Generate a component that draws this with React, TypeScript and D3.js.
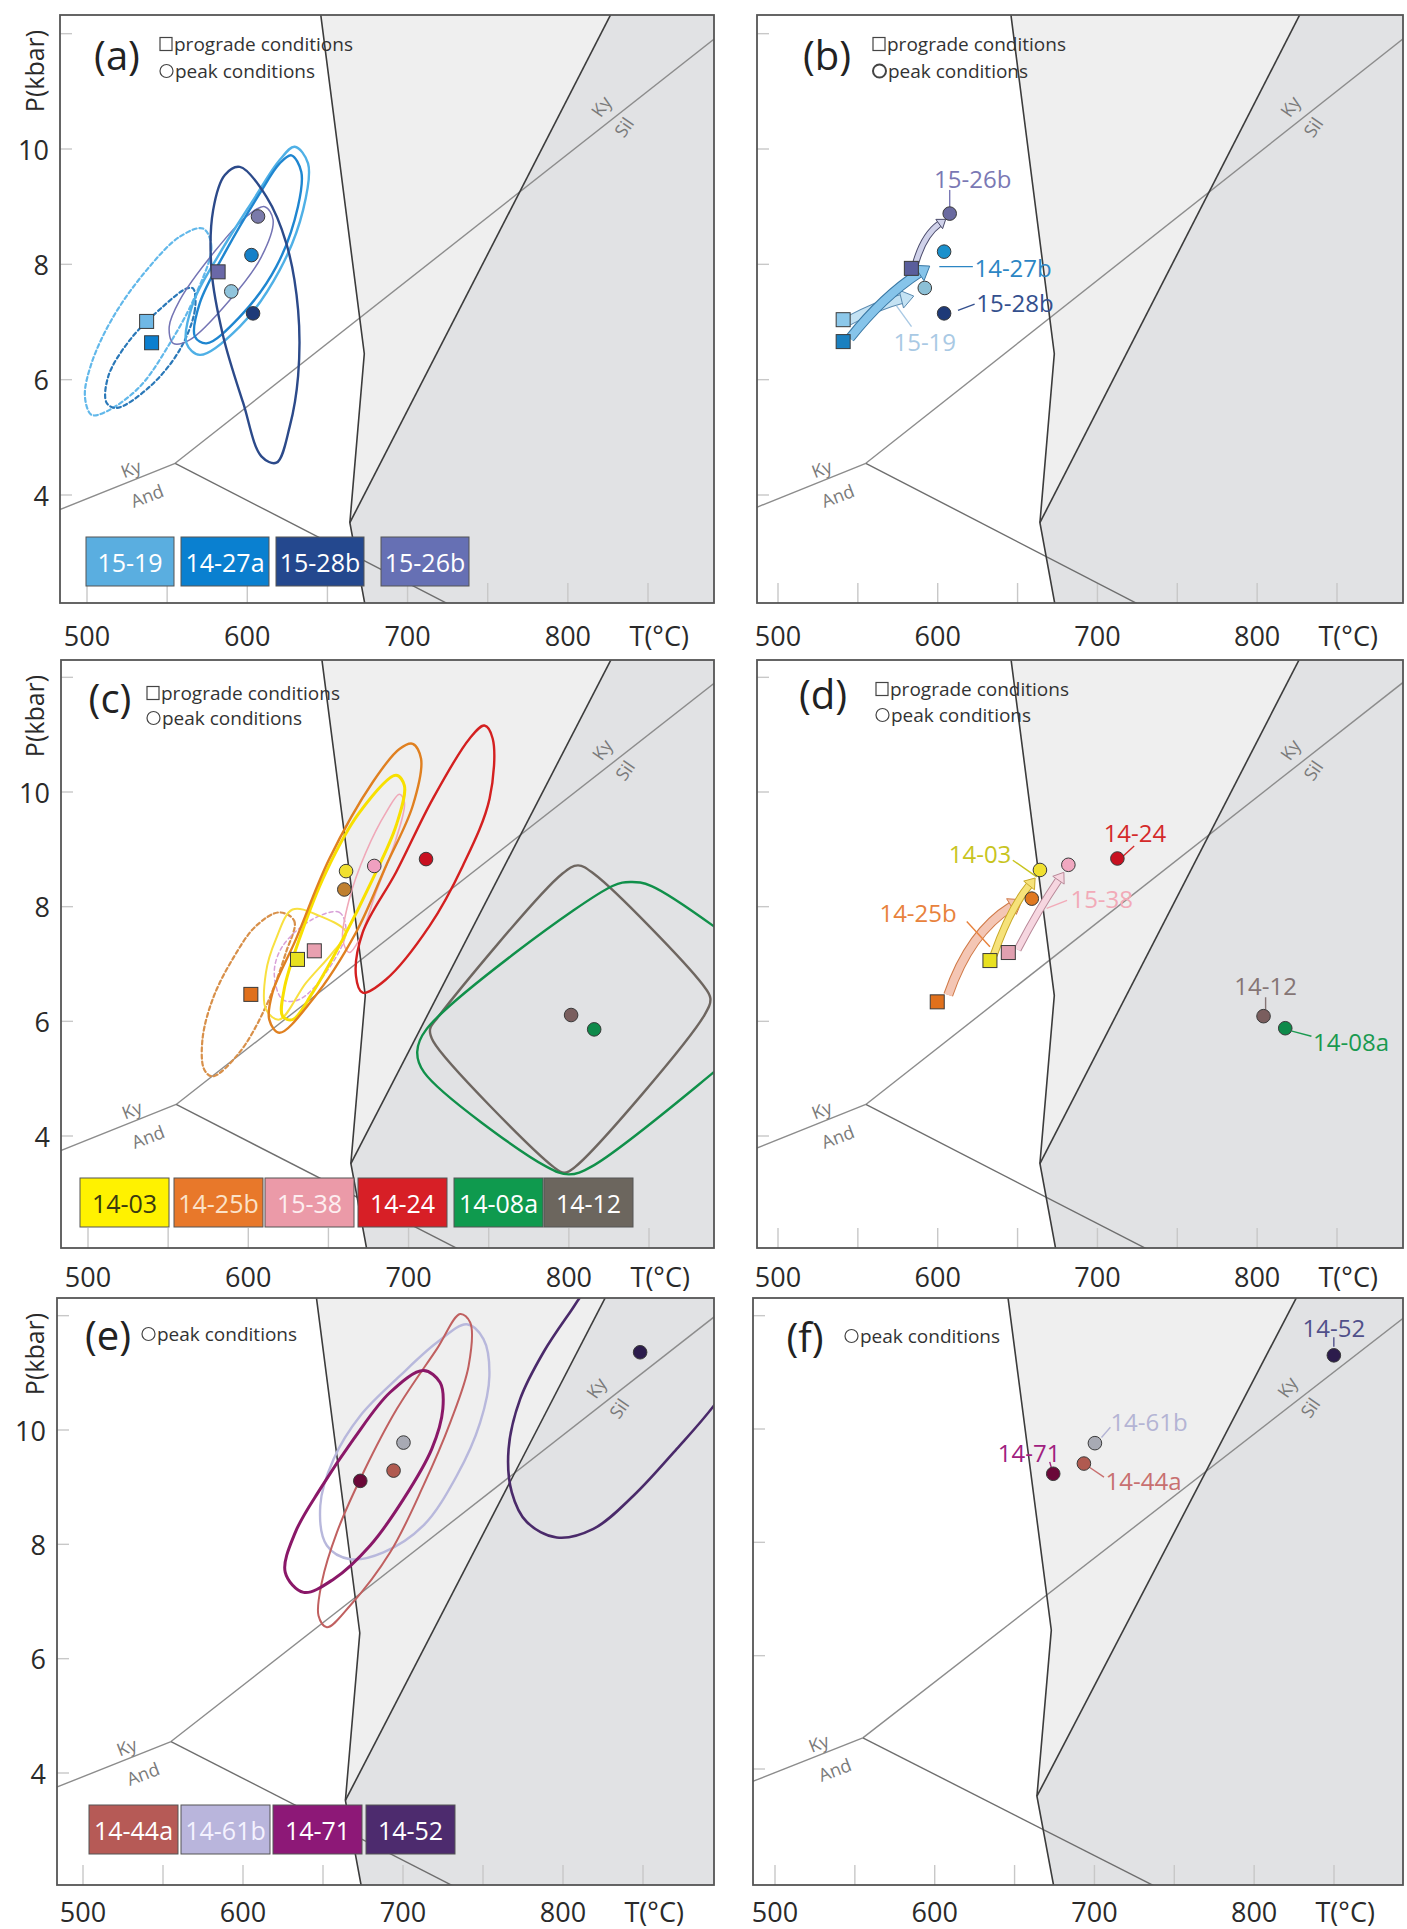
import React from "react";
import * as d3 from "d3";

type Pt = [number, number];

// ---------------- phase diagram (T °C, P kbar) ----------------
const solidus: Pt[] = [[645.5, 12.4], [673, 6.45], [664, 3.52], [675.4, 1.8]];
const meltIn: Pt[] = [[828, 12.4], [664, 3.52]];
const kySil: Pt[] = [[555, 4.55], [900, 12.1]];
const kyAnd: Pt[] = [[555, 4.55], [478, 3.69]];
const andSil: Pt[] = [[555, 4.55], [740, 1.9]];
const cornerTR: Pt = [900, 12.4];
const cornerBR: Pt = [900, 1.8];

const phaseLabels = [
  { t: "Ky", T: 820.6, P: 10.74, rot: -55 },
  { t: "Sil", T: 834.9, P: 10.38, rot: -55 },
  { t: "Ky", T: 527.3, P: 4.46, rot: -21 },
  { t: "And", T: 537.4, P: 3.99, rot: -21 },
];

// ---------------- axes ----------------
const tempTicks = [500, 550, 600, 650, 700, 750, 800, 850];
const tempLabels = [500, 600, 700, 800];
const presTicks = [4, 6, 8, 10, 12];
const presLabels = [4, 6, 8, 10];

// ---------------- legend boxes ----------------
const legendA = ["15-19", "14-27a", "15-28b", "15-26b"];
const legendC = ["14-03", "14-25b", "15-38", "14-24", "14-08a", "14-12"];
const legendE = ["14-44a", "14-61b", "14-71", "14-52"];
const boxFill: Record<string, string> = {
  "15-19": "#5aaee0", "14-27a": "#0a80d0", "15-28b": "#24488e", "15-26b": "#6670b4",
  "14-03": "#fff200", "14-25b": "#e8782a", "15-38": "#eb9aa8", "14-24": "#d71f26",
  "14-08a": "#0f9a4e", "14-12": "#6c665e",
  "14-44a": "#b65a56", "14-61b": "#b9b5dc", "14-71": "#8d1877", "14-52": "#4d2b6e",
};
const boxText: Record<string, string> = { "14-03": "#3a3a10", "14-25b": "#fbe2c8", "15-38": "#fdeef0", "14-61b": "#f4f2ff" };

// ---------------- panel (a) contours ----------------
const a1519pro: Pt[] = [[572.4, 8.62], [577.6, 8.31], [567.3, 7.44], [551.7, 6.63], [533.0, 5.88], [512.2, 5.45], [502.9, 5.39], [498.7, 5.71], [502.9, 6.29], [516.4, 7.09], [537.2, 7.9], [557.9, 8.48]];
const a1427pro: Pt[] = [[566.2, 7.58], [567.3, 7.21], [557.9, 6.52], [539.2, 5.88], [518.5, 5.51], [512.2, 5.6], [513.3, 6.06], [526.8, 6.69], [547.5, 7.27], [562.1, 7.58]];
const a1519peak: Pt[] = [[629.6, 10.04], [637.9, 9.75], [634.8, 8.94], [620.2, 7.9], [595.3, 6.92], [570.4, 6.43], [562.1, 6.63], [566.2, 7.33], [582.8, 8.19], [603.6, 9.11], [620.2, 9.81]];
const a1427peak: Pt[] = [[627.5, 9.89], [633.7, 9.6], [631.6, 9.0], [618.1, 7.96], [595.3, 7.09], [574.5, 6.63], [567.3, 6.75], [570.4, 7.33], [587.0, 8.25], [607.8, 9.23], [620.2, 9.75]];
const a1526peak: Pt[] = [[610.9, 9.0], [616.1, 8.77], [608.8, 8.13], [589.1, 7.38], [564.1, 6.69], [553.8, 6.63], [551.3, 6.92], [557.9, 7.38], [578.7, 8.19], [599.5, 8.83]];
const a1528peak: Pt[] = [[595.3, 9.69], [612, 9.17], [624.4, 8.36], [631.7, 7.21], [631.7, 6.06], [626.5, 5.19], [618.2, 4.56], [608.8, 4.67], [597.4, 5.6], [585, 6.75], [577.7, 7.9], [578.7, 8.94], [586, 9.55]];

// ---------------- panel (c) contours ----------------
const c1424: Pt[] = [[747.3, 11.16], [752.5, 10.93], [750.5, 9.88], [733.8, 8.71], [713.0, 7.66], [685.9, 6.73], [671.4, 6.5], [667.2, 6.79], [671.4, 7.55], [692.2, 8.6], [715.1, 9.88], [738.0, 10.93]];
const c1425peak: Pt[] = [[702.6, 10.84], [707.8, 10.58], [702.6, 9.76], [685.9, 8.71], [667.2, 7.55], [640.1, 6.38], [619.3, 5.8], [613.1, 6.03], [615.1, 6.5], [629.7, 7.43], [650.5, 8.83], [677.6, 10.17], [694.3, 10.75]];
const c1403peak: Pt[] = [[692.2, 10.29], [697.4, 10.11], [692.2, 9.41], [677.6, 8.48], [658.9, 7.43], [640.1, 6.5], [627.6, 6.03], [621.4, 6.09], [622.4, 6.56], [631.8, 7.43], [648.4, 8.6], [669.3, 9.64]];
const c1403pro: Pt[] = [[627.6, 7.95], [644.3, 7.84], [660.9, 7.55], [652.6, 7.2], [636.0, 6.67], [619.3, 6.03], [611.0, 6.21], [611.0, 6.85], [617.2, 7.43]];
const c1425pro: Pt[] = [[619.3, 7.9], [628.7, 7.75], [623.5, 7.2], [611.0, 6.26], [594.3, 5.45], [577.7, 5.04], [572.5, 5.16], [571.4, 5.68], [577.7, 6.38], [590.1, 7.08], [604.7, 7.66]];
const c1538pro: Pt[] = [[640.1, 7.78], [656.8, 7.9], [660.9, 7.55], [648.5, 6.85], [631.8, 6.38], [621.4, 6.38], [616.2, 6.85], [621.4, 7.31]];
const c1538peak: Pt[] = [[694.3, 9.96], [697.4, 9.82], [692.2, 9.18], [679.7, 8.25], [669.3, 7.43], [663.0, 7.2], [658.9, 7.43], [663.0, 8.13], [673.4, 8.95], [685.9, 9.64]];
const c1412: Pt[] = [[795.7, 8.57], [805.7, 8.72], [815.8, 8.57], [883.2, 6.65], [888.3, 6.4], [884.6, 6.11], [804.3, 3.47], [797.1, 3.36], [790, 3.47], [715.4, 5.65], [713.4, 5.86], [718.3, 6.07]];
const c1408: Pt[] = [[711.1, 5.86], [827.2, 8.36], [838.7, 8.43], [851.6, 8.36], [940, 6.6], [945, 6.45], [940, 6.3], [814.4, 3.47], [800, 3.33], [785.7, 3.47], [709.7, 5.11], [705.4, 5.47]];

// ---------------- panel (e) contours ----------------
const e1471: Pt[] = [[712.8, 11.04], [723.2, 10.83], [724.9, 10.37], [718.0, 9.67], [700.3, 8.79], [679.5, 7.98], [656.6, 7.39], [637.9, 7.16], [626.4, 7.51], [632.7, 8.21], [648.3, 8.97], [669.1, 9.84], [692.0, 10.66]];
const e1444: Pt[] = [[735.7, 12.03], [742.0, 11.88], [741.0, 11.12], [729.5, 10.13], [712.8, 9.03], [692.0, 7.86], [667.0, 6.93], [652.4, 6.55], [647.2, 6.75], [649.3, 7.34], [658.7, 8.21], [675.3, 9.26], [696.2, 10.37], [721.2, 11.42]];
const e1461: Pt[] = [[739.9, 11.85], [750.3, 11.59], [754.0, 10.95], [748.2, 10.13], [733.6, 9.2], [712.8, 8.33], [687.8, 7.86], [667.0, 7.74], [652.4, 7.98], [648.3, 8.68], [656.6, 9.49], [673.3, 10.25], [698.2, 10.95], [721.2, 11.53]];
const e1452: Pt[] = [[814.8, 12.46], [804.4, 12.06], [787.8, 11.36], [773.2, 10.54], [766.0, 9.67], [768.0, 8.91], [777.4, 8.39], [796.1, 8.12], [819.0, 8.27], [844.0, 8.85], [871.1, 9.67], [894.4, 10.43], [920, 11.5], [900, 13], [840, 13]];

type Contour = { pts: Pt[]; color: string; w: number; dash?: string };
const contoursA: Contour[] = [
  { pts: a1519pro, color: "#62b8ea", w: 2.2, dash: "4 3" },
  { pts: a1427pro, color: "#2a78b8", w: 2.2, dash: "4 3" },
  { pts: a1526peak, color: "#7474b4", w: 1.5 },
  { pts: a1519peak, color: "#4fb0e6", w: 2.4 },
  { pts: a1427peak, color: "#1f86d0", w: 2.4 },
  { pts: a1528peak, color: "#2c4a8a", w: 2.4 },
];
const contoursC: Contour[] = [
  { pts: c1425pro, color: "#d8904a", w: 2.2, dash: "4 3" },
  { pts: c1538pro, color: "#d8a0d8", w: 1.5, dash: "4 3" },
  { pts: c1403pro, color: "#f8e040", w: 2 },
  { pts: c1538peak, color: "#f0a8b8", w: 1.6 },
  { pts: c1403peak, color: "#f8e000", w: 3 },
  { pts: c1425peak, color: "#e08020", w: 2.4 },
  { pts: c1424, color: "#d42020", w: 2.4 },
  { pts: c1412, color: "#6e6660", w: 2.4 },
  { pts: c1408, color: "#10904a", w: 2.4 },
];
const contoursE: Contour[] = [
  { pts: e1461, color: "#b8b8dc", w: 2.4 },
  { pts: e1444, color: "#c06060", w: 2 },
  { pts: e1471, color: "#8a1868", w: 3 },
  { pts: e1452, color: "#4a2a6a", w: 2.6 },
];

// ---------------- markers ----------------
type Marker = { s: "sq" | "ci"; T: number; P: number; fill: string };
const markersA: Marker[] = [
  { s: "sq", T: 537.2, P: 7.01, fill: "#6fb8e6" },
  { s: "sq", T: 540.3, P: 6.64, fill: "#0c7fcf" },
  { s: "sq", T: 581.8, P: 7.87, fill: "#6a68a8" },
  { s: "ci", T: 606.7, P: 8.83, fill: "#7a7aaa" },
  { s: "ci", T: 602.6, P: 8.16, fill: "#1580c8" },
  { s: "ci", T: 590.0, P: 7.53, fill: "#90c4dc" },
  { s: "ci", T: 603.6, P: 7.15, fill: "#1e3a78" },
];
const markersB: Marker[] = [
  { s: "sq", T: 540.8, P: 7.04, fill: "#8cc8ea" },
  { s: "sq", T: 540.8, P: 6.66, fill: "#1a80c0" },
  { s: "sq", T: 583.5, P: 7.93, fill: "#5a5e9c" },
  { s: "ci", T: 607.5, P: 8.88, fill: "#6a6aa0" },
  { s: "ci", T: 604.0, P: 8.22, fill: "#1a90cc" },
  { s: "ci", T: 591.9, P: 7.59, fill: "#8cc0d6" },
  { s: "ci", T: 604.0, P: 7.15, fill: "#1e3a78" },
];
const markersC: Marker[] = [
  { s: "sq", T: 601.6, P: 6.47, fill: "#e0701c" },
  { s: "sq", T: 630.7, P: 7.08, fill: "#e8e020" },
  { s: "sq", T: 641.2, P: 7.23, fill: "#e8a0b0" },
  { s: "ci", T: 661.0, P: 8.62, fill: "#f0e030" },
  { s: "ci", T: 659.9, P: 8.3, fill: "#c08030" },
  { s: "ci", T: 678.6, P: 8.71, fill: "#f0a0c0" },
  { s: "ci", T: 710.9, P: 8.83, fill: "#c81020" },
  { s: "ci", T: 801.4, P: 6.11, fill: "#7a5e5e" },
  { s: "ci", T: 815.8, P: 5.86, fill: "#0e8a4a" },
];
const markersD: Marker[] = [
  { s: "sq", T: 599.7, P: 6.34, fill: "#e0701c" },
  { s: "sq", T: 632.7, P: 7.06, fill: "#e8e020" },
  { s: "sq", T: 644.2, P: 7.2, fill: "#e0a0b0" },
  { s: "ci", T: 658.9, P: 8.14, fill: "#e07820" },
  { s: "ci", T: 664.0, P: 8.64, fill: "#f0e030" },
  { s: "ci", T: 681.8, P: 8.73, fill: "#f0a8c0" },
  { s: "ci", T: 712.5, P: 8.84, fill: "#c81020" },
  { s: "ci", T: 804.0, P: 6.09, fill: "#7a5e5e" },
  { s: "ci", T: 817.6, P: 5.88, fill: "#0e8a4a" },
];
const markersE: Marker[] = [
  { s: "ci", T: 700.3, P: 9.78, fill: "#a8aab4" },
  { s: "ci", T: 694.1, P: 9.29, fill: "#b05a50" },
  { s: "ci", T: 673.3, P: 9.11, fill: "#6a0838" },
  { s: "ci", T: 848.2, P: 11.36, fill: "#2c1c4c" },
];
const markersF: Marker[] = [
  { s: "ci", T: 700.3, P: 9.75, fill: "#a8aab4" },
  { s: "ci", T: 693.4, P: 9.39, fill: "#b05a50" },
  { s: "ci", T: 674.2, P: 9.21, fill: "#6a0838" },
  { s: "ci", T: 849.9, P: 11.3, fill: "#2c1c4c" },
];

// ---------------- P-T path arrows ----------------
type Arrow = { from: Pt; ctrl: Pt; to: Pt; w: number; fill: string; stroke: string };
const arrowsB: Arrow[] = [
  { from: [544, 7.02], ctrl: [563, 7.3], to: [585, 7.45], w: 8, fill: "#c4e2f3", stroke: "#5a8ab0" },
  { from: [545, 6.72], ctrl: [566, 7.45], to: [595, 7.97], w: 8, fill: "#86c4ea", stroke: "#3a78a4" },
  { from: [586, 8.0], ctrl: [591, 8.5], to: [605, 8.78], w: 5, fill: "#d0d2ea", stroke: "#4a4a6a" },
];
const arrowsD: Arrow[] = [
  { from: [606.6, 6.46], ctrl: [620, 7.55], to: [653, 8.12], w: 8, fill: "#f4c6b4", stroke: "#d07a48" },
  { from: [635, 7.15], ctrl: [645, 7.95], to: [661, 8.5], w: 6, fill: "#f6e27a", stroke: "#c8a828" },
  { from: [650, 7.25], ctrl: [663, 7.95], to: [679, 8.6], w: 6, fill: "#f6d6e0", stroke: "#b88898" },
];

// ---------------- sample labels ----------------
type Label = { text: string; T: number; P: number; anchor: "start" | "middle"; color: string; lead: Pt[] };
const labelsB: Label[] = [
  { text: "15-26b", T: 621.9, P: 9.49, anchor: "middle", color: "#7a78b4", lead: [[607.5, 9.29], [607.5, 8.98]] },
  { text: "14-27b", T: 623, P: 7.94, anchor: "start", color: "#2c86c4", lead: [[601, 7.96], [622, 7.96]] },
  { text: "15-28b", T: 624.2, P: 7.33, anchor: "start", color: "#34508e", lead: [[612.7, 7.2], [623.1, 7.31]] },
  { text: "15-19", T: 591.9, P: 6.66, anchor: "middle", color: "#a9c9e4", lead: [[574.2, 7.28], [583.6, 6.92]] },
];
const labelsD: Label[] = [
  { text: "14-03", T: 626.5, P: 8.92, anchor: "middle", color: "#c8c41e", lead: [[647, 8.81], [662, 8.52]] },
  { text: "14-25b", T: 587.7, P: 7.89, anchor: "middle", color: "#e8823c", lead: [[618.2, 7.74], [632.7, 7.3]] },
  { text: "15-38", T: 702.7, P: 8.15, anchor: "middle", color: "#f2aab8", lead: [[668.2, 7.97], [681, 8.11]] },
  { text: "14-24", T: 723.5, P: 9.3, anchor: "middle", color: "#d42a2a", lead: [[716, 8.88], [723, 9.06]] },
  { text: "14-12", T: 805.3, P: 6.63, anchor: "middle", color: "#857575", lead: [[805.3, 6.42], [805.3, 6.21]] },
  { text: "14-08a", T: 835, P: 5.64, anchor: "start", color: "#1a9a50", lead: [[821.8, 5.83], [834, 5.74]] },
];
const labelsF: Label[] = [
  { text: "14-52", T: 849.9, P: 11.8, anchor: "middle", color: "#50508a", lead: [[849.9, 11.62], [849.9, 11.45]] },
  { text: "14-61b", T: 710, P: 10.13, anchor: "start", color: "#b4b4d4", lead: [[704.4, 9.85], [710, 10.03]] },
  { text: "14-71", T: 659.1, P: 9.58, anchor: "middle", color: "#a02080", lead: [[672, 9.42], [673.5, 9.27]] },
  { text: "14-44a", T: 707, P: 9.09, anchor: "start", color: "#c87070", lead: [[695, 9.36], [706, 9.15]] },
];

// ---------------- layout ----------------
type Layout = {
  id: string; letter: string; x500: number; x850: number; y10: number; y4: number;
  left: number; right: number; top: number; bottom: number; showY: boolean; labelBase: number;
  letterX: number; letterY: number; legX: number; legY1: number | null; legY2: number; boldCircle?: boolean;
  boxY?: number; boxXs?: number[]; boxW?: number; boxes?: string[];
};
type PanelDef = { layout: Layout; contours: Contour[]; arrows: Arrow[]; markers: Marker[]; labels: Label[] };

const panels: PanelDef[] = [
  {
    layout: { id: "a", letter: "(a)", x500: 87, x850: 648, y10: 149, y4: 495, left: 60, right: 714, top: 15, bottom: 603, showY: true, labelBase: 646, letterX: 117, letterY: 54, legX: 160, legY1: 44, legY2: 71, boxY: 537, boxXs: [86, 181, 276, 381], boxW: 88, boxes: legendA },
    contours: contoursA, arrows: [], markers: markersA, labels: [],
  },
  {
    layout: { id: "b", letter: "(b)", x500: 778, x850: 1337, y10: 149, y4: 495, left: 757, right: 1403, top: 15, bottom: 603, showY: false, labelBase: 646, letterX: 827, letterY: 54, legX: 873, legY1: 44, legY2: 71, boldCircle: true },
    contours: [], arrows: arrowsB, markers: markersB, labels: labelsB,
  },
  {
    layout: { id: "c", letter: "(c)", x500: 88, x850: 649, y10: 792, y4: 1136, left: 61, right: 714, top: 660, bottom: 1248, showY: true, labelBase: 1287, letterX: 110, letterY: 697, legX: 147, legY1: 693, legY2: 718, boxY: 1178, boxXs: [80, 174, 265, 358, 454, 544], boxW: 89, boxes: legendC },
    contours: contoursC, arrows: [], markers: markersC, labels: [],
  },
  {
    layout: { id: "d", letter: "(d)", x500: 778, x850: 1337, y10: 792, y4: 1136, left: 757, right: 1403, top: 660, bottom: 1248, showY: false, labelBase: 1287, letterX: 823, letterY: 693, legX: 876, legY1: 689, legY2: 715 },
    contours: [], arrows: arrowsD, markers: markersD, labels: labelsD,
  },
  {
    layout: { id: "e", letter: "(e)", x500: 83, x850: 643, y10: 1430, y4: 1773, left: 57, right: 714, top: 1298, bottom: 1885, showY: true, labelBase: 1922, letterX: 108, letterY: 1334, legX: 142, legY1: null, legY2: 1334, boxY: 1805, boxXs: [89, 181, 273, 366], boxW: 89, boxes: legendE },
    contours: contoursE, arrows: [], markers: markersE, labels: [],
  },
  {
    layout: { id: "f", letter: "(f)", x500: 775, x850: 1334, y10: 1429, y4: 1769, left: 753, right: 1403, top: 1298, bottom: 1885, showY: false, labelBase: 1922, letterX: 805, letterY: 1336, legX: 845, legY1: null, legY2: 1336 },
    contours: [], arrows: [], markers: markersF, labels: labelsF,
  },
];

const FONT = "'Open Sans', 'Noto Sans', sans-serif";

function Panel({ def }: { def: PanelDef }) {
  const L = def.layout;
  const x = d3.scaleLinear().domain([500, 850]).range([L.x500, L.x850]);
  const y = d3.scaleLinear().domain([10, 4]).range([L.y10, L.y4]);
  const lin = d3.line<Pt>().x((d) => x(d[0])).y((d) => y(d[1]));
  const smooth = d3.line<Pt>().x((d) => x(d[0])).y((d) => y(d[1])).curve(d3.curveCatmullRomClosed.alpha(0.5));
  const clipId = `clip-${L.id}`;

  const lightPoly: Pt[] = [solidus[0], solidus[1], solidus[2], meltIn[0]];
  const darkPoly: Pt[] = [meltIn[0], meltIn[1], solidus[3], cornerBR, cornerTR];

  const arrowEls = def.arrows.map((a, i) => {
    const p0 = [x(a.from[0]), y(a.from[1])];
    const c = [x(a.ctrl[0]), y(a.ctrl[1])];
    const p1 = [x(a.to[0]), y(a.to[1])];
    const dx = p1[0] - c[0], dy = p1[1] - c[1];
    const len = Math.hypot(dx, dy) || 1;
    const ux = dx / len, uy = dy / len;
    const hl = a.w * 1.6, hw = a.w * 1.15;
    const b = [p1[0] - ux * hl, p1[1] - uy * hl];
    const path = `M${p0[0]},${p0[1]}Q${c[0]},${c[1]} ${b[0]},${b[1]}`;
    const head = `M${p1[0]},${p1[1]}L${b[0] - uy * hw},${b[1] + ux * hw}L${b[0] + uy * hw},${b[1] - ux * hw}Z`;
    return (
      <g key={i}>
        <path d={path} fill="none" stroke={a.stroke} strokeWidth={a.w + 2} />
        <path d={path} fill="none" stroke={a.fill} strokeWidth={a.w} />
        <path d={head} fill={a.fill} stroke={a.stroke} strokeWidth={1} strokeLinejoin="round" />
      </g>
    );
  });

  return (
    <g>
      <defs>
        <clipPath id={clipId}>
          <rect x={L.left} y={L.top} width={L.right - L.left} height={L.bottom - L.top} />
        </clipPath>
      </defs>
      <rect x={L.left} y={L.top} width={L.right - L.left} height={L.bottom - L.top} fill="#ffffff" />
      <g clipPath={`url(#${clipId})`}>
        <path d={lin(lightPoly) + "Z"} fill="#efefef" />
        <path d={lin(darkPoly) + "Z"} fill="#e1e2e4" />
        {tempTicks.map((t) => (
          <line key={t} x1={x(t)} x2={x(t)} y1={L.bottom} y2={L.bottom - 20} stroke="#c8c8c8" strokeWidth={1.4} />
        ))}
        {presTicks.map((p) => (
          <line key={p} x1={L.left} x2={L.left + 12} y1={y(p)} y2={y(p)} stroke="#c8c8c8" strokeWidth={1.4} />
        ))}
        <path d={lin(kySil) ?? ""} fill="none" stroke="#8c8c8c" strokeWidth={1.4} />
        <path d={lin(kyAnd) ?? ""} fill="none" stroke="#8c8c8c" strokeWidth={1.4} />
        <path d={lin(andSil) ?? ""} fill="none" stroke="#6e6e6e" strokeWidth={1.4} />
        <path d={lin(solidus) ?? ""} fill="none" stroke="#3c3c3c" strokeWidth={1.6} />
        <path d={lin(meltIn) ?? ""} fill="none" stroke="#3c3c3c" strokeWidth={1.6} />
        {phaseLabels.map((l, i) => (
          <text key={i} x={x(l.T)} y={y(l.P)} transform={`rotate(${l.rot},${x(l.T)},${y(l.P)})`}
            fontSize={18} fill="#7a7a7a" textAnchor="middle" dominantBaseline="central" fontFamily={FONT}>{l.t}</text>
        ))}
        {def.contours.map((c, i) => (
          <path key={i} d={smooth(c.pts) ?? ""} fill="none" stroke={c.color} strokeWidth={c.w}
            strokeDasharray={c.dash} strokeLinejoin="round" strokeLinecap="round" />
        ))}
        {arrowEls}
        {def.labels.map((l, i) => (
          <path key={i} d={lin(l.lead) ?? ""} stroke={l.color} strokeWidth={1.4} fill="none" />
        ))}
        {def.markers.map((m, i) =>
          m.s === "sq" ? (
            <rect key={i} x={x(m.T) - 7} y={y(m.P) - 7} width={14} height={14} fill={m.fill} stroke="#3a3a3a" strokeWidth={1} />
          ) : (
            <circle key={i} cx={x(m.T)} cy={y(m.P)} r={6.8} fill={m.fill} stroke="#3a3a3a" strokeWidth={1} />
          )
        )}
        {def.labels.map((l, i) => (
          <text key={i} x={x(l.T)} y={y(l.P)} fontSize={24} fill={l.color} textAnchor={l.anchor}
            dominantBaseline="central" fontFamily={FONT}>{l.text}</text>
        ))}
        {L.boxes && L.boxXs && L.boxes.map((s, i) => (
          <g key={s}>
            <rect x={L.boxXs![i]} y={L.boxY} width={L.boxW} height={49} fill={boxFill[s]} stroke="#555" strokeWidth={1} />
            <text x={L.boxXs![i] + (L.boxW as number) / 2} y={(L.boxY as number) + 25} fontSize={25} textAnchor="middle"
              dominantBaseline="central" fill={boxText[s] ?? "#ffffff"} fontFamily={FONT}>{s}</text>
          </g>
        ))}
      </g>
      <rect x={L.left} y={L.top} width={L.right - L.left} height={L.bottom - L.top} fill="none" stroke="#555" strokeWidth={1.8} />

      <text x={L.letterX} y={L.letterY} fontSize={40} fill="#222" textAnchor="middle" dominantBaseline="central" fontFamily={FONT}>{L.letter}</text>
      {L.legY1 !== null && (
        <g>
          <rect x={L.legX} y={L.legY1 - 6.5} width={12} height={13} fill="none" stroke="#444" strokeWidth={1.2} />
          <text x={L.legX + 14} y={L.legY1} fontSize={19} fill="#333" dominantBaseline="central" fontFamily={FONT}>prograde conditions</text>
        </g>
      )}
      <g>
        <circle cx={L.legX + 6.5} cy={L.legY2} r={6.5} fill="none" stroke="#444" strokeWidth={L.boldCircle ? 2 : 1.2} />
        <text x={L.legX + 15} y={L.legY2} fontSize={19} fill="#333" dominantBaseline="central" fontFamily={FONT}>peak conditions</text>
      </g>

      {tempLabels.map((t) => (
        <text key={t} x={x(t)} y={L.labelBase} fontSize={27} fill="#2a2a2a" textAnchor="middle" fontFamily={FONT}>{t}</text>
      ))}
      <text x={x(857)} y={L.labelBase} fontSize={27} fill="#2a2a2a" textAnchor="middle" fontFamily={FONT}>T(°C)</text>

      {L.showY && (
        <g>
          {presLabels.map((p) => (
            <text key={p} x={L.left - 11} y={y(p)} fontSize={27} fill="#2a2a2a" textAnchor="end" dominantBaseline="central" fontFamily={FONT}>{p}</text>
          ))}
          <text x={34} y={L.top + 56} fontSize={25} fill="#2a2a2a" textAnchor="middle" dominantBaseline="central"
            transform={`rotate(-90,34,${L.top + 56})`} fontFamily={FONT}>P(kbar)</text>
        </g>
      )}
    </g>
  );
}

export default function App() {
  return (
    <svg width={1407} height={1929} style={{ position: "absolute", left: 0, top: 0, display: "block" }}>
      <rect x={0} y={0} width={1407} height={1929} fill="#ffffff" />
      {panels.map((p) => (
        <Panel key={p.layout.id} def={p} />
      ))}
    </svg>
  );
}
